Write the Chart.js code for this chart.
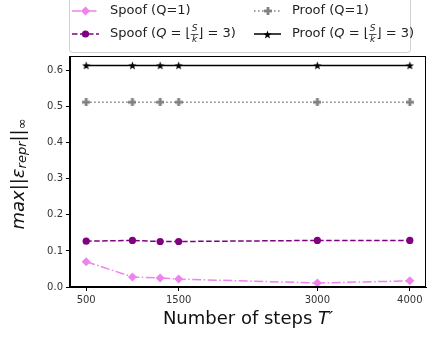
<!DOCTYPE html>
<html>
<head>
<meta charset="utf-8">
<script src="https://cdn.jsdelivr.net/npm/chart.js@4.4.0/dist/chart.umd.min.js"></script>
<style>
  html, body { margin: 0; padding: 0; background: #fff; }
  #wrap { width: 435px; height: 337px; }
</style>
</head>
<body>
<div id="wrap"><canvas id="myChart" width="435" height="337"></canvas></div>
<script>
/* data */
const steps = [500, 1000, 1300, 1500, 3000, 4000];
const spoofQ1 = [0.070, 0.028, 0.025, 0.022, 0.011, 0.017];
const spoofQ3 = [0.127, 0.129, 0.126, 0.126, 0.129, 0.129];
const proofQ1 = [0.512, 0.512, 0.512, 0.512, 0.512, 0.512];
const proofQ3 = [0.614, 0.614, 0.614, 0.614, 0.614, 0.614];
const seriesNames = ['Spoof (Q=1)', 'Spoof (Q=⌊S/k⌋=3)', 'Proof (Q=1)', 'Proof (Q=⌊S/k⌋=3)'];
const xTicks = [500, 1500, 3000, 4000];
const yTicks = [0, 0.1, 0.2, 0.3, 0.4, 0.5, 0.6];
const xTitle = 'Number of steps ';

const FONT = '"DejaVu Sans", sans-serif';

// marker images (filled star and filled plus, like matplotlib '*' and 'P')
function makeStar(color) {
  const c = document.createElement('canvas');
  c.width = 9; c.height = 9;
  const g = c.getContext('2d');
  g.fillStyle = color;
  g.beginPath();
  for (let i = 0; i < 10; i++) {
    const r = i % 2 === 0 ? 4.3 : 1.8;
    const a = -Math.PI / 2 + i * Math.PI / 5;
    g.lineTo(4.5 + r * Math.cos(a), 4.9 + r * Math.sin(a));
  }
  g.closePath();
  g.fill();
  return c;
}
function makePlus(color) {
  const c = document.createElement('canvas');
  c.width = 8; c.height = 8;
  const g = c.getContext('2d');
  g.fillStyle = color;
  g.fillRect(2.6, 0, 2.8, 8);
  g.fillRect(0, 2.6, 8, 2.8);
  return c;
}

const styles = [
  { color: '#ee82ee', dash: [9, 2.5, 1.5, 2.5], point: 'rectRot', radius: 4.5 },
  { color: '#800080', dash: [5.5, 2.5], point: 'circle', radius: 3.6 },
  { color: '#808080', dash: [1.5, 2.5], point: makePlus('#808080'), radius: 4 },
  { color: '#000000', dash: [], point: makeStar('#000000'), radius: 4 }
];
const seriesValues = [spoofQ1, spoofQ3, proofQ1, proofQ3];

// small rich-text helper for the math bits
function labelSegments(label) {
  const R = '13px ' + FONT, I = 'italic 13px ' + FONT;
  const m = label.match(/^(.*)\(Q=⌊(\w)\/(\w)⌋=(\d)\)$/);
  if (!m) return [{ t: label, f: R }];
  return [
    { t: m[1] + '(', f: R },
    { t: 'Q', f: I },
    { t: ' = ⌊', f: R },
    { frac: [m[2], m[3]] },
    { t: '⌋ = ' + m[4] + ')', f: R }
  ];
}
function segWidth(ctx, s) {
  if (s.frac) {
    ctx.font = 'italic 9px ' + FONT;
    return Math.max(ctx.measureText(s.frac[0]).width, ctx.measureText(s.frac[1]).width) + 2;
  }
  ctx.font = s.f;
  return ctx.measureText(s.t).width;
}
function drawSegments(ctx, segs, x, y) {
  ctx.textBaseline = 'middle';
  ctx.textAlign = 'left';
  segs.forEach(s => {
    const w = segWidth(ctx, s);
    if (s.frac) {
      ctx.font = 'italic 9px ' + FONT;
      ctx.textAlign = 'center';
      ctx.fillText(s.frac[0], x + w / 2, y - 5);
      ctx.fillText(s.frac[1], x + w / 2, y + 6);
      ctx.fillRect(x, y, w, 0.8);
      ctx.textAlign = 'left';
    } else {
      ctx.font = s.f;
      ctx.fillText(s.t, x, y + (s.dy || 0));
    }
    x += w;
  });
}

function drawMarker(ctx, st, x, y) {
  ctx.fillStyle = st.color;
  if (st.point instanceof HTMLCanvasElement) {
    ctx.drawImage(st.point, Math.round(x - st.point.width / 2), Math.round(y - st.point.height / 2));
  } else if (st.point === 'circle') {
    ctx.beginPath(); ctx.arc(x, y, st.radius, 0, Math.PI * 2); ctx.fill();
  } else {
    const r = st.radius;
    ctx.beginPath();
    ctx.moveTo(x, y - r); ctx.lineTo(x + r, y); ctx.lineTo(x, y + r); ctx.lineTo(x - r, y);
    ctx.closePath(); ctx.fill();
  }
}

const boxLegend = {
  id: 'boxLegend',
  afterDraw(chart) {
    const ctx = chart.ctx;
    ctx.save();
    ctx.beginPath();
    ctx.roundRect(69.5, -5.5, 341, 58, 3);
    ctx.fillStyle = 'rgba(255,255,255,0.8)';
    ctx.fill();
    ctx.strokeStyle = '#d0d0d0';
    ctx.lineWidth = 1;
    ctx.stroke();
    const cols = [72, 254], rows = [11, 34];
    chart.data.datasets.forEach((ds, i) => {
      const st = styles[i];
      const x0 = cols[Math.floor(i / 2)], y = rows[i % 2];
      ctx.strokeStyle = st.color;
      ctx.lineWidth = 1.5;
      ctx.setLineDash(st.dash);
      ctx.beginPath(); ctx.moveTo(x0, y); ctx.lineTo(x0 + 27, y); ctx.stroke();
      ctx.setLineDash([]);
      drawMarker(ctx, st, x0 + 13.5, y);
      ctx.fillStyle = '#222';
      drawSegments(ctx, labelSegments(ds.label), x0 + 38, y);
    });
    ctx.restore();
  }
};

const frameAndTitles = {
  id: 'frameAndTitles',
  afterDraw(chart) {
    const ctx = chart.ctx, a = chart.chartArea;
    ctx.save();
    ctx.strokeStyle = '#000';
    ctx.lineWidth = 1;
    ctx.strokeRect(Math.round(a.left) - 0.5, Math.round(a.top) + 0.5,
      Math.round(a.right - a.left), Math.round(a.bottom - a.top) - 1);

    ctx.fillStyle = '#111';
    // x title
    const xs = [{ t: xTitle, f: '18px ' + FONT }, { t: 'T′', f: 'italic 18px ' + FONT }];
    let w = xs.reduce((s, g) => s + segWidth(ctx, g), 0);
    drawSegments(ctx, xs, (a.left + a.right) / 2 - w / 2, 319);

    // y title, rotated
    const ys = [
      { t: 'max', f: 'italic 18px ' + FONT },
      { t: '||', f: '18px ' + FONT },
      { t: 'ε', f: 'italic 18px ' + FONT },
      { t: 'repr', f: 'italic 13px ' + FONT, dy: 4 },
      { t: '||', f: '18px ' + FONT },
      { t: '∞', f: '13px ' + FONT, dy: 4 }
    ];
    w = ys.reduce((s, g) => s + segWidth(ctx, g), 0);
    ctx.translate(19, 174);
    ctx.rotate(-Math.PI / 2);
    drawSegments(ctx, ys, -w / 2, 0);
    ctx.restore();
  }
};

function initChart() {
  const ctx = document.getElementById('myChart').getContext('2d');
  const tickFont = { family: 'DejaVu Sans', size: 10 };

  // eslint-disable-next-line no-unused-vars
  const myChart = new Chart(ctx, {
    type: 'line',
    data: {
      datasets: seriesValues.map((vals, i) => ({
        label: seriesNames[i],
        data: vals.map((v, j) => ({ x: steps[j], y: v })),
        borderColor: styles[i].color,
        backgroundColor: styles[i].color,
        borderWidth: 1.5,
        borderDash: styles[i].dash,
        pointStyle: styles[i].point,
        pointRadius: styles[i].radius,
        pointBorderWidth: 0,
        pointBackgroundColor: styles[i].color,
        tension: 0,
        fill: false
      }))
    },
    options: {
      responsive: false,
      devicePixelRatio: 1,
      animation: false,
      events: [],
      layout: { padding: { left: 0, top: 56, right: 9, bottom: 0 } },
      plugins: { legend: { display: false }, tooltip: { enabled: false } },
      scales: {
        x: {
          type: 'linear',
          min: 325,
          max: 4175,
          afterBuildTicks: s => { s.ticks = xTicks.map(v => ({ value: v })); },
          afterFit: s => { s.height = 50; },
          grid: { drawOnChartArea: false, drawTicks: true, tickLength: 4, color: '#000' },
          border: { display: true, color: '#000' },
          ticks: { font: tickFont, color: '#333', padding: 3, maxRotation: 0, autoSkip: false, callback: v => String(v) }
        },
        y: {
          min: 0,
          max: 0.64,
          afterBuildTicks: s => { s.ticks = yTicks.map(v => ({ value: v })); },
          afterFit: s => { s.width = 70; },
          grid: { drawOnChartArea: false, drawTicks: true, tickLength: 4, color: '#000' },
          border: { display: true, color: '#000' },
          ticks: { font: tickFont, color: '#333', padding: 3, autoSkip: false, callback: v => v.toFixed(1) }
        }
      }
    },
    plugins: [frameAndTitles, boxLegend]
  });
}

const app = () => {
  initChart();
};

app();
</script>
</body>
</html>
